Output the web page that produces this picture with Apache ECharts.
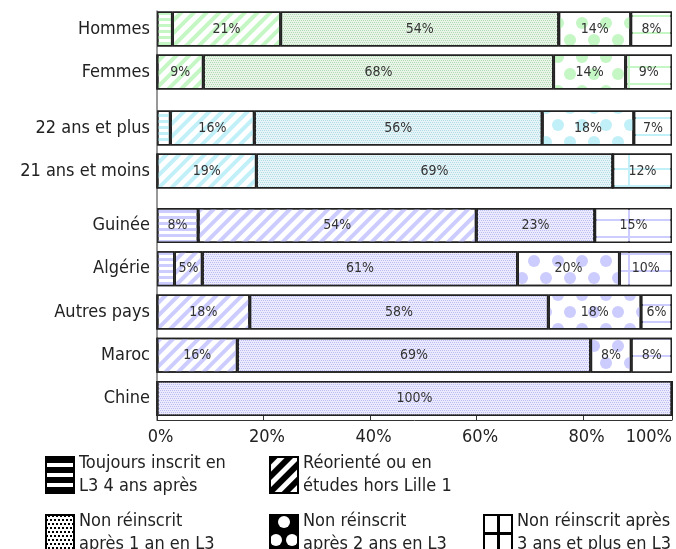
<!DOCTYPE html>
<html><head><meta charset="utf-8">
<script src="https://cdn.jsdelivr.net/npm/echarts@6/dist/echarts.min.js"></script>
<style>html,body{margin:0;padding:0;background:#fff}#c{width:676px;height:549px}</style>
</head><body><div id="c"></div>
<script>
// ---- DATA ----
const seriesNames = ['Toujours inscrit en L3 4 ans après', 'Réorienté ou en études hors Lille 1', 'Non réinscrit après 1 an en L3', 'Non réinscrit après 2 ans en L3', 'Non réinscrit après 3 ans et plus en L3'];
const legendLines = [['Toujours inscrit en', 'L3 4 ans après'], ['Réorienté ou en', 'études hors Lille 1'], ['Non réinscrit', 'après 1 an en L3'], ['Non réinscrit', 'après 2 ans en L3'], ['Non réinscrit après', '3 ans et plus en L3']];

const catSexe = ['Hommes', 'Femmes'];
const sexeToujours = [3, 0];
const sexeReoriente = [21, 9];
const sexeNonR1 = [54, 68];
const sexeNonR2 = [14, 14];
const sexeNonR3 = [8, 9];

const catAge = ['22 ans et plus', '21 ans et moins'];
const ageToujours = [2.6, 0];
const ageReoriente = [16.3, 19.3];
const ageNonR1 = [55.9, 69.2];
const ageNonR2 = [17.8, 0];
const ageNonR3 = [7.4, 11.5];

const catPays = ['Guinée', 'Algérie', 'Autres pays', 'Maroc', 'Chine'];
const paysToujours = [8, 3.4, 0, 0, 0];
const paysReoriente = [54, 5.4, 18, 15.6, 0];
const paysNonR1 = [23, 61.2, 58, 68.6, 100];
const paysNonR2 = [0, 19.8, 18, 7.9, 0];
const paysNonR3 = [15, 10.2, 6, 7.9, 0];

const tickLabels = ['0%', '20%', '40%', '60%', '80%', '100%'];

// ---- STYLE / LAYOUT ----
const FONT = '"DejaVu Sans Condensed", "Liberation Sans Narrow", "DejaVu Sans", sans-serif';
const groups = [
  { cats: catSexe, values: [sexeToujours, sexeReoriente, sexeNonR1, sexeNonR2, sexeNonR3], color: '#c4f7c4', dot: '#b4dcb4', tint: '#e8f4e8', top: 7.5, height: 86 },
  { cats: catAge, values: [ageToujours, ageReoriente, ageNonR1, ageNonR2, ageNonR3], color: '#c2f0f8', dot: '#b0dde6', tint: '#e6f4f7', top: 106.5, height: 86 },
  { cats: catPays, values: [paysToujours, paysReoriente, paysNonR1, paysNonR2, paysNonR3], color: '#ccccff', dot: '#bcbcf4', tint: '#ebebfd', top: 204, height: 216 }
];
const LEFT = 157, RIGHT = 4;

function decal(color, symbol, keep, dx, dy, rot) {
  return { symbol: symbol, symbolSize: 1, symbolKeepAspect: keep, color: color,
    dashArrayX: dx, dashArrayY: dy, rotation: rot || 0, maxTileWidth: 512, maxTileHeight: 512 };
}
function makeDecal(s, g) {
  switch (s) {
    case 0: return decal(g.color, 'rect', false, [1, 0], [3, 3]);
    case 1: return decal(g.color, 'rect', false, [1, 0], [4, 5], -Math.PI / 4);
    case 2: return decal(g.dot, 'rect', false, [[1, 1], [0, 1, 1, 0]], [1, 1]);
    case 3: return decal(g.color, 'circle', true, [[12, 12], [0, 12, 12, 0]], [12, 5]);
    default: return decal('#fff', 'rect', false, [43, 2], [15, 2]);
  }
}
function baseColor(s, g) {
  if (s === 2) return g.tint;
  if (s === 4) return g.color;
  return '#fff';
}
function legendDecal(s) {
  switch (s) {
    case 0: return decal('#000', 'rect', false, [1, 0], [6, 4]);
    case 1: return decal('#000', 'rect', false, [1, 0], [6, 5], -Math.PI / 4);
    case 2: return decal('#000', 'rect', false, [[2, 2], [0, 2, 2, 0]], [2, 2]);
    case 3: return decal('#fff', 'circle', true, [[12, 4], [0, 8, 12, 4, 0, 0]], [14, 4]);
    default: return decal('#fff', 'rect', false, [12.5, 3], [16.5, 3]);
  }
}
function legendBase(s) { return (s === 3 || s === 4) ? '#000' : '#fff'; }

const grid = groups.map(g => ({ left: LEFT, right: RIGHT, top: g.top, height: g.height }));
const xAxis = groups.map((g, i) => ({ type: 'value', gridIndex: i, min: 0, max: 100, show: false }));
// tick axis (bottom)
xAxis.push({
  type: 'value', gridIndex: 2, min: 0, max: 96.7, interval: 20, position: 'bottom',
  axisLine: { show: true, lineStyle: { color: '#333', width: 1 } },
  axisTick: { show: true, inside: true, length: 5, lineStyle: { color: '#333' } },
  splitLine: { show: false },
  axisLabel: { fontSize: 18, color: '#222', fontFamily: FONT, margin: 8, alignMaxLabel: 'right', padding: [0, 0, 0, 7],
    formatter: (v, idx) => tickLabels[idx] }
});
const yAxis = groups.map((g, i) => ({
  type: 'category', gridIndex: i, data: g.cats, inverse: true,
  axisLine: { show: false }, axisTick: { show: false },
  axisLabel: { fontSize: 18, color: '#222', fontFamily: FONT, margin: 7 }
}));

const series = [];
groups.forEach((g, gi) => {
  for (let s = 0; s < 5; s++) {
    series.push({
      type: 'bar', name: seriesNames[s], xAxisIndex: gi, yAxisIndex: gi, stack: 'g' + gi,
      barWidth: 35, data: g.values[s], silent: true,
      itemStyle: { color: baseColor(s, g), borderColor: '#222', borderWidth: 1.5, decal: makeDecal(s, g) },
      label: { show: true, position: 'inside', fontSize: 14, color: '#333', fontFamily: FONT, textBorderWidth: 0,
        formatter: p => p.value < 4 ? '' : Math.round(p.value) + '%' }
    });
  }
});

const legendPos = [[45, 452], [269, 452], [45, 510], [269, 510], [483, 510]];
const legend = seriesNames.map((n, s) => ({
  left: legendPos[s][0], top: legendPos[s][1], orient: 'horizontal', padding: 0,
  itemWidth: 28, itemHeight: 36, icon: 'rect', selectedMode: false,
  textStyle: { fontSize: 18, lineHeight: 23, color: '#222', fontFamily: FONT },
  formatter: name => legendLines[seriesNames.indexOf(name)].join('\n'),
  data: [{ name: n, itemStyle: { color: legendBase(s), borderColor: '#000', borderWidth: 2, decal: legendDecal(s) } }]
}));

const chart = echarts.init(document.getElementById('c'), null, { renderer: 'canvas' });
chart.setOption({
  animation: false,
  aria: { enabled: true, decal: { show: true } },
  grid, xAxis, yAxis, series, legend,
  graphic: [{ type: 'line', silent: true, z: 10,
    shape: { x1: LEFT, y1: groups[0].top + 3, x2: LEFT, y2: groups[2].top + groups[2].height },
    style: { stroke: '#333', lineWidth: 1 } }]
});
</script>
</body></html>
